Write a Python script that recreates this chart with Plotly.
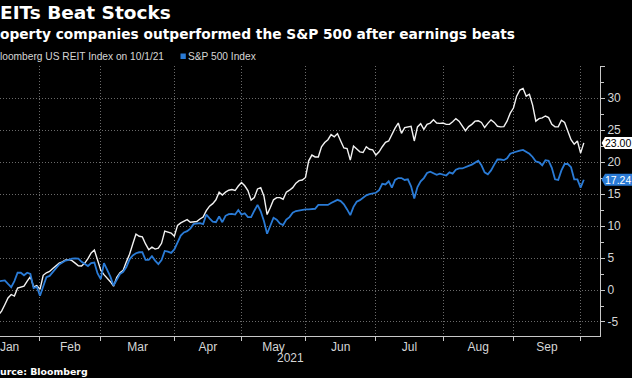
import plotly.graph_objects as go

# ---------------- data ----------------
# texts exactly as they appear in the (left-cropped) reference picture
title = "EITs Beat Stocks"
subtitle = "operty companies outperformed the S&P 500 after earnings beats"
source = "urce: Bloomberg"
series_names = ["loomberg US REIT Index on 10/1/21", "S&P 500 Index"]

month_labels = ["Jan", "Feb", "Mar", "Apr", "May", "Jun", "Jul", "Aug", "Sep"]
month_label_day = [9.5, 28.5, 49.5, 71.5, 92, 113, 134.5, 156, 177.5]
month_start_day = [19, 38, 61, 82, 102, 124, 145, 167, 188]
year_label = "2021"

y_tick_vals = [-5, 0, 5, 10, 15, 20, 25, 30, 35]
y_tick_text = ["-5", "0", "5", "10", "15", "20", "25", "30", ""]

# % change, one value per trading day (trading day 5 .. 189)
reit = [
    -4.6, -4.0, -3.3, -2.3, -1.25, -0.7, -0.95, 0.3, 0.4, 0.6,
    1.4, 2.1, 0.5, 0.7, 0.1, 2.3, 2.7, 2.9, 3.35, 3.75,
    4.2, 4.4, 4.7, 4.75, 4.6, 4.2, 3.8, 3.75, 4.2, 4.9,
    5.8, 6.25, 4.5, 3.1, 2.4, 1.9, 1.3, 0.6, 2.0, 2.7,
    3.1, 4.4, 5.6, 7.2, 8.75, 8.4, 8.3, 7.2, 6.3, 6.7,
    6.4, 6.55, 7.3, 9.2, 9.1, 8.9, 8.4, 10.1, 10.5, 10.7,
    11.0, 10.6, 10.6, 10.7, 11.1, 11.4, 12.4, 13.1, 13.5, 14.1,
    15.3, 14.85, 15.3, 15.6, 15.7, 15.55, 16.25, 16.8, 16.3, 15.55,
    14.05, 14.45, 15.8, 16.0, 14.7, 11.8, 12.9, 14.1, 14.45, 14.45,
    14.2, 15.3, 15.6, 16.0, 16.7, 17.1, 17.2, 17.6, 20.2, 21.1,
    20.8, 20.8, 22.4, 23.05, 23.5, 24.3, 23.95, 24.45, 23.3, 22.2,
    22.1, 20.3, 22.5, 22.0, 21.6, 21.5, 22.4, 22.0, 21.9, 21.1,
    21.6, 22.4, 23.1, 23.3, 24.4, 25.3, 26.1, 24.5, 25.4, 25.5,
    25.6, 23.3, 25.5, 26.0, 25.1, 25.9, 26.1, 26.6, 26.1, 26.05,
    26.1, 25.9, 25.9, 26.3, 26.8, 26.4, 25.7, 24.9, 25.55, 25.9,
    26.4, 26.45, 26.2, 25.4, 26.05, 26.6, 26.2, 25.6, 25.5, 25.55,
    26.4, 27.65, 28.45, 30.3, 31.25, 31.5, 30.3, 30.6, 28.9, 26.4,
    26.8, 26.9, 27.2, 26.95, 25.9, 25.5, 25.5, 26.55, 26.2, 25.0,
    23.5, 22.8, 23.3, 21.4, 23.0,
]
spx = [
    1.3, 1.4, 1.45, 1.5, 0.95, 0.45, 1.4, 2.7, 2.7, 2.3,
    2.7, 2.5, 0.3, 0.5, -0.9, 0.6, 2.0, 2.2, 2.8, 3.4,
    4.0, 4.3, 4.6, 4.7, 4.9, 4.95, 4.9, 4.4, 4.05, 3.75,
    4.2, 4.3, 2.6, 1.7, 4.2, 3.2, 2.1, 0.7, 1.55, 2.5,
    2.85, 3.6, 4.8, 5.4, 5.75, 5.9, 5.9, 4.7, 4.7, 5.3,
    4.6, 4.05, 4.7, 6.1, 6.0, 5.8, 6.35, 7.45, 8.5, 9.0,
    9.2, 9.6, 10.3, 10.4, 10.45, 10.3, 11.8, 11.2, 10.7, 10.6,
    11.5, 10.6, 11.6, 11.85, 11.9, 11.8, 12.5, 11.8, 12.0, 11.4,
    11.4, 12.4, 13.3, 12.3, 10.8, 8.8, 10.0, 11.3, 11.0, 10.4,
    10.15, 11.0, 11.4, 12.1, 12.35, 12.45, 12.55, 12.6, 12.6, 12.6,
    12.7, 13.3, 13.3, 13.2, 13.3, 13.6, 13.85, 14.1, 13.9, 13.4,
    12.6, 11.7, 13.0, 13.8, 14.05, 14.4, 14.8, 15.0, 15.1, 15.2,
    15.6, 16.6, 16.5, 17.0, 16.0, 17.2, 17.5, 17.5, 17.2, 17.3,
    16.2, 14.3, 16.1, 17.0, 17.5, 18.3, 18.5, 18.3, 18.0, 18.2,
    18.0, 17.9, 18.4, 18.2, 18.8, 19.0, 19.0, 19.15, 19.4, 19.6,
    19.9, 20.2, 19.5, 18.4, 18.1, 18.7, 19.6, 20.4, 20.4, 20.3,
    20.6, 21.3, 21.5, 21.7, 21.8, 21.9, 21.6, 21.3, 20.8, 20.1,
    19.95, 19.5, 20.3, 20.2, 19.1, 17.3, 17.2, 18.7, 19.7, 19.7,
    19.2, 17.3, 17.3, 16.0, 17.24,
]
day = list(range(5, 5 + len(reit)))

# ---------------- style ----------------
W, H = 632, 378
ML, MR, MT, MB = 0, 32, 66, 42
PW, PH = W - ML - MR, H - MT - MB
BG = "#000000"
WHITE_LINE = "#f2f2f2"
BLUE = "#2a7bd6"
AXIS = "#c8c8c8"
GRID = "#6a6a6a"
TXT = "#d6d6d6"
TICKFONT = "Liberation Sans, Arial, sans-serif"
BOLD = "DejaVu Sans, Verdana, sans-serif"


def px_x(px):
    return (px - ML) / PW


def px_y(py):
    return (H - MB - py) / PH


fig = go.Figure()
fig.add_trace(go.Scatter(x=day, y=reit, mode="lines", name=series_names[0],
                         line=dict(color=WHITE_LINE, width=1.4), hoverinfo="skip"))
fig.add_trace(go.Scatter(x=day, y=spx, mode="lines", name=series_names[1],
                         line=dict(color=BLUE, width=1.8), hoverinfo="skip"))

annotations = []
shapes = []


def text_at(txt, x_px, y_px, size, family, color, anchor="left", bold=False):
    annotations.append(dict(text=("<b>" + txt + "</b>") if bold else txt,
                            xref="paper", yref="paper", x=px_x(x_px), y=px_y(y_px),
                            xanchor=anchor, yanchor="middle", showarrow=False,
                            borderpad=0, borderwidth=0,
                            font=dict(family=family, size=size, color=color)))


text_at(title, 0, 12, 18.5, BOLD, "#ffffff", bold=True)
text_at(subtitle, 0, 34, 13.75, BOLD, "#ffffff", bold=True)
# legend
text_at(series_names[0], 0, 56.5, 10.2, TICKFONT, TXT)
shapes.append(dict(type="rect", xref="paper", yref="paper", x0=px_x(180.5), x1=px_x(185.8),
                   y0=px_y(59), y1=px_y(53.5), fillcolor=BLUE, line=dict(width=0)))
text_at(series_names[1], 188, 56.5, 10.2, TICKFONT, TXT)
# source + year
text_at(source, 0, 371, 9.4, BOLD, "#ffffff", bold=True)
text_at(year_label, 290, 358, 12, TICKFONT, TXT, anchor="center")

# last-value tags on the right axis
unit_px = PH / (35.02 - (-7.19))
half = 6.0 / unit_px
for val, fill, fcol in [(reit[-1], "#ffffff", "#000000"), (spx[-1], BLUE, "#ffffff")]:
    path = (f"M {px_x(601.6)},{val} L {px_x(605)},{val + half} L {px_x(640)},{val + half} "
            f"L {px_x(640)},{val - half} L {px_x(605)},{val - half} Z")
    shapes.append(dict(type="path", xref="paper", yref="y", path=path,
                       fillcolor=fill, line=dict(width=0), layer="above"))
    annotations.append(dict(text=f"{val:.2f}", xref="paper", yref="y",
                            x=px_x(604.5), y=val, xanchor="left", yanchor="middle",
                            showarrow=False, borderpad=0, borderwidth=0,
                            font=dict(family=TICKFONT, size=10.5, color=fcol)))

fig.update_layout(
    template="none",
    width=W, height=H,
    margin=dict(l=ML, r=MR, t=MT, b=MB, pad=0, autoexpand=False),
    paper_bgcolor=BG, plot_bgcolor=BG,
    showlegend=False,
    font=dict(family=TICKFONT, color=TXT, size=12),
    annotations=annotations,
    shapes=shapes,
    xaxis=dict(
        range=[6.5, 194.06], automargin=False,
        tickmode="array", tickvals=month_label_day, ticktext=month_labels,
        ticks="", showgrid=False, zeroline=False, ticklabeloverflow="allow",
        showline=True, linecolor=AXIS, linewidth=1,
        tickfont=dict(family=TICKFONT, size=12, color=TXT),
        minor=dict(tickmode="array", tickvals=month_start_day, ticks="outside",
                   ticklen=4, tickcolor=AXIS, tickwidth=1,
                   showgrid=True, gridcolor=GRID, griddash="1px,2px", gridwidth=1),
    ),
    yaxis=dict(
        range=[-7.19, 35.02], side="right", automargin=False,
        tickmode="array", tickvals=y_tick_vals, ticktext=y_tick_text,
        ticks="outside", ticklen=4, tickcolor=AXIS, tickwidth=1,
        showgrid=True, gridcolor=GRID, griddash="1px,2px", gridwidth=1,
        zeroline=False, showline=True, linecolor=AXIS, linewidth=1,
        tickfont=dict(family=TICKFONT, size=12, color=TXT),
        minor=dict(dtick=2.5, tick0=0, ticks="outside", ticklen=3,
                   tickcolor=AXIS, tickwidth=1, showgrid=False),
    ),
)

# remove the browser's default 8px page margin so the figure sits at the window origin
fig.write_html("out.html",
               config={"displayModeBar": False, "staticPlot": True},
               post_script="document.body.style.margin='0';document.body.style.overflow='hidden';")
